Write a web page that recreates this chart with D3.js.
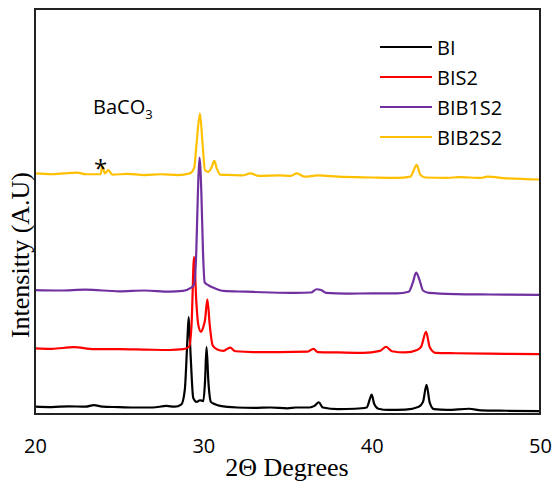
<!DOCTYPE html>
<html>
<head>
<meta charset="utf-8">
<script src="https://cdn.jsdelivr.net/npm/d3@7"></script>
<style>
  body { margin: 0; background: #fff; }
</style>
</head>
<body>
<script>
// two-theta positions (deg) and stacked intensity (a.u.)
const biX  = [20,21,22,23,23.5,24,25,26,27,27.8,28.3,28.7,28.9,29.05,29.13,29.25,29.4,29.6,29.8,30,30.1,30.19,30.3,30.45,30.7,31,32,33,34,35,35.5,36.3,36.6,36.86,37.1,38,39,39.7,39.9,40,40.15,40.4,41,42,42.8,43.05,43.26,43.45,43.7,44.5,45.8,46.5,48,50];
const biY  = [1.8,1.7,1.9,1.8,2.2,1.8,1.7,1.6,1.6,2.0,1.8,2.4,6,18,23.9,14,4,3.0,3.4,3.2,8,16.5,8,3.0,2.4,2.0,1.6,1.5,1.6,1.4,1.6,1.6,2.0,2.9,1.6,1.2,1.3,1.6,3.8,4.8,2.5,1.3,1.0,1.1,1.8,3,7.2,2.8,1.2,1.0,1.3,0.9,0.8,0.7];

const bis2X = [20,21,22.3,23.5,25,26.5,28,28.8,29.15,29.3,29.45,29.58,29.7,29.86,30,30.1,30.24,30.38,30.55,30.8,31.2,31.59,31.9,33,34.5,36.2,36.54,36.8,38,39.5,40.5,40.86,41.2,42,42.7,42.95,43.23,43.45,43.8,45,47,50];
const bis2Y = [16.2,16.1,16.5,16.0,16.0,15.9,15.8,16.0,16.6,22,38.8,28,22,20.3,21.5,23.2,28.3,22,17,16.0,15.6,16.4,15.5,15.3,15.3,15.4,16.1,15.3,15.2,15.1,15.6,16.6,15.5,15.2,15.8,16.7,20.3,16.5,15.1,15.0,14.9,14.8];

const bib1X = [20,21.5,23,25,26.5,28,28.8,29.2,29.45,29.58,29.68,29.77,29.88,29.98,30.08,30.3,30.7,31.2,32.5,34,35.5,36.4,36.73,37,37.3,38.5,40,41.5,42.2,42.45,42.64,42.85,43.05,43.4,45,47,50];
const bib1Y = [30.6,30.5,30.7,30.3,30.5,30.2,30.4,31.0,32.0,40,55,63.3,55,40,32.5,31.8,31.0,30.4,30.2,30.0,29.9,30.0,30.8,30.6,29.9,29.7,29.8,29.8,30.2,32.5,34.9,33.0,30.5,29.9,29.6,29.5,29.4];

const bib2X = [20,21,22.5,23,23.9,24,24.15,24.35,24.6,25.5,26.5,27.5,28.5,29.2,29.45,29.6,29.8,29.95,30.1,30.3,30.5,30.65,30.8,31,31.8,32.3,32.8,33.3,34.5,35.2,35.55,36,36.8,38,40,41.5,42.3,42.5,42.67,42.9,43.2,44.5,45.2,46.5,46.86,48,50];
const bib2Y = [59.4,59.2,59.6,59.2,59.2,61.2,59.4,60.2,59.1,59.3,59.0,59.2,59.0,59.4,60.7,66.9,74.2,66.9,60.2,59.8,61.0,62.5,60.6,59.1,59.0,58.9,59.4,58.8,58.9,58.8,59.4,58.6,58.9,58.6,58.4,58.3,58.6,60.2,61.5,59.0,58.4,58.3,58.5,58.3,58.6,58.2,57.9];

const seriesNames = ['BI', 'BIS2', 'BIB1S2', 'BIB2S2'];
const seriesColors = ['#000000', '#ff0000', '#7030a0', '#ffc000'];
const xTicks = [20, 30, 40, 50];

const width = 553, height = 487;
const margin = {top: 9, right: 13, bottom: 73, left: 35};
const innerW = width - margin.left - margin.right;
const innerH = height - margin.top - margin.bottom;

const svg = d3.select('body').append('svg').attr('width', width).attr('height', height);
svg.append('rect').attr('width', width).attr('height', height).attr('fill', '#fff');

const g = svg.append('g').attr('transform', `translate(${margin.left},${margin.top})`);

const xScale = d3.scaleLinear().domain([20, 50]).range([0, innerW]);
const yScale = d3.scaleLinear().domain([0, 100]).range([innerH, 0]);

// x axis labels only
const xAxis = d3.axisBottom(xScale).tickValues(xTicks).tickSize(0).tickPadding(25);
const xAxisG = g.append('g').attr('transform', `translate(0,${innerH})`).call(xAxis);
xAxisG.select('.domain').remove();
xAxisG.selectAll('text').attr('font-family', '"Open Sans", sans-serif').attr('font-size', '20px').attr('fill', '#000');

const line = d3.line().x(d => xScale(d[0])).y(d => yScale(d[1])).curve(d3.curveMonotoneX);
const data = [[biX, biY], [bis2X, bis2Y], [bib1X, bib1Y], [bib2X, bib2Y]];

// draw BI first, BIB2S2 last (on top)
data.forEach((s, i) => {
    const pts = s[0].map((x, j) => [x, s[1][j]]);
    g.append('path').datum(pts)
        .attr('d', line)
        .attr('fill', 'none')
        .attr('stroke', seriesColors[i])
        .attr('stroke-width', 2.2)
        .attr('stroke-linejoin', 'round');
});

// frame
g.append('rect').attr('width', innerW).attr('height', innerH)
    .attr('fill', 'none').attr('stroke', '#222').attr('stroke-width', 2);

// legend
const legend = svg.append('g').attr('transform', 'translate(380,47)');
seriesNames.forEach((name, i) => {
    const row = legend.append('g').attr('transform', `translate(0,${i * 30})`);
    row.append('line').attr('x1', 0).attr('x2', 52).attr('y1', 0).attr('y2', 0)
        .attr('stroke', seriesColors[i]).attr('stroke-width', 2);
    row.append('text').text(name).attr('x', 57).attr('y', 0)
        .attr('dominant-baseline', 'central')
        .attr('font-family', '"Open Sans", sans-serif').attr('font-size', '20px').attr('fill', '#000');
});

// BaCO3 annotation
const ann = svg.append('text').attr('x', 93).attr('y', 114)
    .attr('font-family', '"Open Sans", sans-serif').attr('font-size', '20px').attr('fill', '#000');
ann.append('tspan').text('BaCO');
ann.append('tspan').text('3').attr('font-size', '13px').attr('dy', 5);
svg.append('text').text('*').attr('x', 100.5).attr('y', 177).attr('text-anchor', 'middle')
    .attr('font-family', '"Open Sans", sans-serif').attr('font-size', '24px').attr('fill', '#000');

// axis titles
svg.append('text').text('2Θ Degrees').attr('x', 287).attr('y', 476).attr('text-anchor', 'middle')
    .attr('font-family', '"Liberation Serif", serif').attr('font-size', '26px').attr('fill', '#000');
svg.append('text').text('Intensitty (A.U)').attr('text-anchor', 'middle')
    .attr('transform', 'translate(29,255) rotate(-90)')
    .attr('font-family', '"Liberation Serif", serif').attr('font-size', '26px').attr('fill', '#000');
</script>
</body>
</html>
